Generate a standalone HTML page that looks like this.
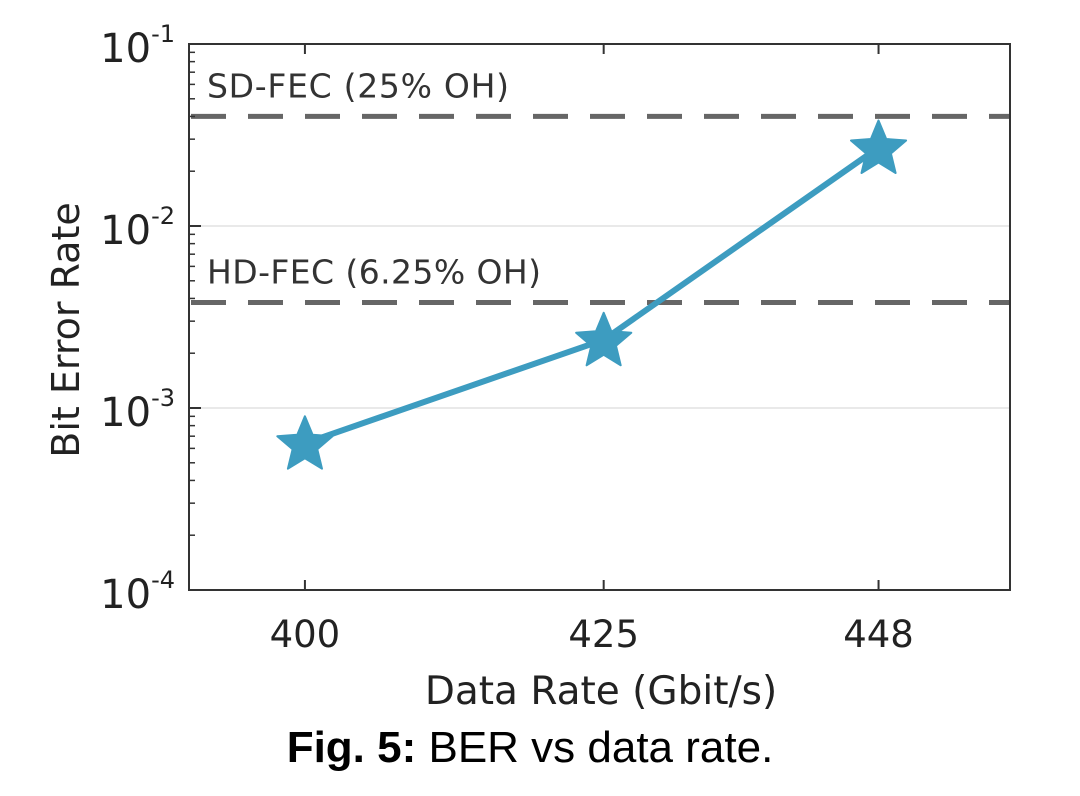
<!DOCTYPE html>
<html><head><meta charset="utf-8"><style>
body{margin:0;background:#fff;}
svg{display:block;font-family:"DejaVu Sans","Liberation Sans",sans-serif;}
</style></head><body>
<svg id="chart" width="1080" height="796" viewBox="0 0 1080 796" xmlns="http://www.w3.org/2000/svg">
<g id="grid"></g>
<g id="refs"></g>
<g id="series"></g>
<rect x="189" y="44" width="821" height="546" fill="none" stroke="#333" stroke-width="2"/>
<g id="ticks"></g>
<text transform="translate(79,330) rotate(-90)" text-anchor="middle" font-size="38" fill="#222">Bit Error Rate</text>
<text x="601" y="704" text-anchor="middle" font-size="39" fill="#222">Data Rate (Gbit/s)</text>
<text x="530" y="762" text-anchor="middle" font-size="44" fill="#000" font-family="Liberation Sans, sans-serif"><tspan font-weight="bold">Fig. 5:</tspan> BER vs data rate.</text>
</svg>
<script>
const xValues = [400, 425, 448];
const berValues = [6.4e-4, 2.37e-3, 2.7e-2];
const xTickLabels = ["400", "425", "448"];
const yTickExponents = [-1, -2, -3, -4];
const refValues = [4.0e-2, 3.8e-3];
const refLabels = ["SD-FEC (25% OH)", "HD-FEC (6.25% OH)"];

const NS = "http://www.w3.org/2000/svg";
const L = 189, R = 1010, T = 44, B = 590;
const xMin = 390.3, xMax = 459.0;
function xs(v){ return L + (v - xMin) / (xMax - xMin) * (R - L); }
function ys(v){ return T + (-1 - Math.log10(v)) / 3 * (B - T); }
function mk(tag, attrs, parent){ const e = document.createElementNS(NS, tag); for (const k in attrs) e.setAttribute(k, attrs[k]); parent.appendChild(e); return e; }

const grid = document.getElementById('grid');
const ticks = document.getElementById('ticks');
yTickExponents.forEach(ex => {
  const y = ys(Math.pow(10, ex));
  if (ex !== -1 && ex !== -4) {
    const g = mk('line', {x1:L, x2:R, y1:y, y2:y, stroke:'#e2e2e2', 'stroke-width':1.5}, grid);
    
    
  }
  const t = mk('line', {x1:L, x2:L+12, y1:y, y2:y, stroke:'#333', 'stroke-width':2}, ticks);
  
  
  if (ex > -4) {
    for (let m = 2; m <= 9; m++) {
      const ym = ys(m * Math.pow(10, ex - 1));
      const mt = mk('line', {x1:L, x2:L+6, y1:ym, y2:ym, stroke:'#333', 'stroke-width':1.5}, ticks);
      
      
    }
  }
  const lab = mk('text', {x:L-14, y:y+18, 'text-anchor':'end', 'font-size':40, fill:'#222'}, ticks);
  
  
  lab.innerHTML = '10<tspan dy="-20" font-size="24">' + ex + '</tspan>';
});
xValues.forEach((v, i) => {
  const x = xs(v);
  const t1 = mk('line', {x1:x, x2:x, y1:B, y2:B-10, stroke:'#333', 'stroke-width':2}, ticks);
  
  
  const t2 = mk('line', {x1:x, x2:x, y1:T, y2:T+10, stroke:'#333', 'stroke-width':2}, ticks);
  
  
  const lab = mk('text', {x:x, y:647, 'text-anchor':'middle', 'font-size':37, fill:'#222'}, ticks);
  
  
  lab.textContent = xTickLabels[i];
});
const refs = document.getElementById('refs');
refValues.forEach((v, i) => {
  const y = ys(v);
  const l = mk('line', {x1:L, x2:R, y1:y, y2:y, stroke:'#666', 'stroke-width':5, 'stroke-dasharray':'35 22', 'stroke-dashoffset':'-2'}, refs);
  
  
  const t = mk('text', {x:207, y:y-19, 'font-size':33, fill:'#333', textLength: i ? 334 : 302}, refs);
  
  
  t.textContent = refLabels[i];
});
const series = document.getElementById('series');
const pts = xValues.map((v, i) => xs(v) + ',' + ys(berValues[i])).join(' ');
const pl = mk('polyline', {points:pts, fill:'none', stroke:'#3d9cc0', 'stroke-width':6, 'stroke-linejoin':'round'}, series);


function star(cx, cy, ro, ri){
  let p = [];
  for (let k = 0; k < 10; k++) {
    const a = -Math.PI/2 + k * Math.PI/5;
    const r = k % 2 ? ri : ro;
    p.push((cx + r*Math.cos(a)).toFixed(1) + ',' + (cy + r*Math.sin(a)).toFixed(1));
  }
  return p.join(' ');
}
xValues.forEach((v, i) => {
  const s = mk('polygon', {points:star(xs(v), ys(berValues[i]) + 2, 29, 13), fill:'#3d9cc0', stroke:'#3d9cc0', 'stroke-width':2, 'stroke-linejoin':'round'}, series);
  
  
});
</script>
</body></html>
